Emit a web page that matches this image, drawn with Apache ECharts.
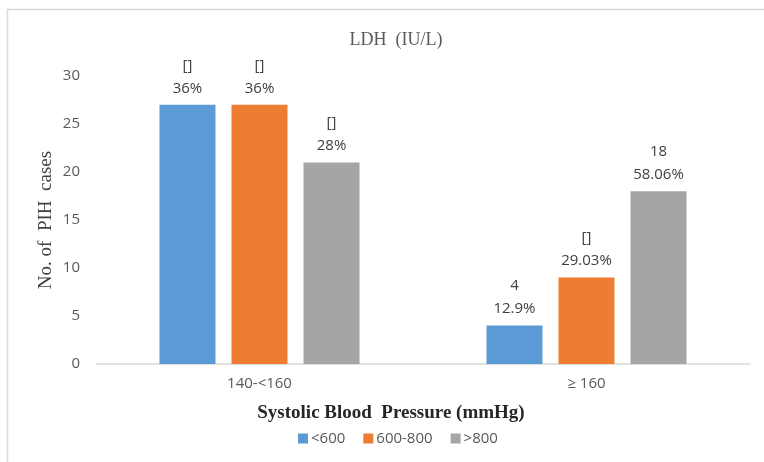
<!DOCTYPE html>
<html>
<head>
<meta charset="utf-8">
<script src="https://cdn.jsdelivr.net/npm/echarts@6/dist/echarts.min.js"></script>
<style>
  html, body { margin: 0; padding: 0; background: #fff; }
  #chart { width: 764px; height: 462px; }
</style>
</head>
<body>
<div id="chart"></div>
<script>
// Categories (systolic blood pressure bands)
const categories = ['140-<160', '\u2265 160'];

// LDH groups
const seriesNames = ['<600', '600-800', '>800'];
const colors = ['#5b9bd5', '#ed7d31', '#a5a5a5'];

// Number of PIH cases per LDH group
const lowValues = [27, 4];
const midValues = [27, 9];
const highValues = [21, 18];

// Data label text: first line, then percentage
const lowTop = ['[]', '4'];
const midTop = ['[]', '[]'];
const highTop = ['[]', '18'];
const lowPct = ['36%', '12.9%'];
const midPct = ['36%', '29.03%'];
const highPct = ['28%', '58.06%'];

const yTicks = [0, 5, 10, 15, 20, 25, 30];

const valueSets = [lowValues, midValues, highValues];
const topSets = [lowTop, midTop, highTop];
const pctSets = [lowPct, midPct, highPct];

const chart = echarts.init(document.getElementById('chart'), null, { renderer: 'canvas' });

const series = seriesNames.map((name, s) => ({
  name: name,
  type: 'bar',
  barWidth: 56,
  barGap: '28.6%',
  itemStyle: { color: colors[s] },
  label: {
    show: true,
    position: 'top',
    distance: 5,
    color: '#404040',
    fontSize: 15,
    lineHeight: 23,
    fontFamily: 'Open Sans, sans-serif',
    formatter: p => topSets[s][p.dataIndex] + '\n' + pctSets[s][p.dataIndex]
  },
  data: valueSets[s]
}));

chart.setOption({
  animation: false,
  backgroundColor: '#ffffff',
  graphic: [{
    type: 'rect',
    shape: { x: 7.5, y: 9.5, width: 820, height: 520 },
    style: { fill: 'none', stroke: '#d9d9d9', lineWidth: 1.5 },
    silent: true
  }],
  title: {
    text: 'LDH  (IU/L)',
    left: 391,
    textAlign: 'center',
    top: 26,
    textStyle: {
      fontFamily: 'Liberation Serif, DejaVu Serif, serif',
      fontSize: 18,
      fontWeight: 'normal',
      color: '#595959'
    }
  },
  legend: {
    bottom: 11,
    left: 293,
    itemWidth: 10,
    itemHeight: 10,
    itemGap: 18,
    icon: 'rect',
    textStyle: { color: '#595959', fontSize: 15, fontFamily: 'Open Sans, sans-serif', padding: [0, 0, 0, -2] },
    data: seriesNames
  },
  grid: { left: 96, right: 14, top: 76, bottom: 98 },
  xAxis: {
    type: 'category',
    data: categories,
    name: 'Systolic Blood  Pressure (mmHg)',
    nameLocation: 'middle',
    nameGap: 40,
    nameTextStyle: {
      fontFamily: 'Liberation Serif, DejaVu Serif, serif',
      fontSize: 19,
      fontWeight: 'bold',
      color: '#262626',
      padding: [0, 64, 0, 0]
    },
    axisLine: { lineStyle: { color: '#d9d9d9', width: 1.5 } },
    axisTick: { show: false },
    axisLabel: {
      color: '#595959',
      fontSize: 15,
      margin: 12,
      fontFamily: 'Open Sans, sans-serif'
    }
  },
  yAxis: {
    type: 'value',
    min: yTicks[0],
    max: yTicks[yTicks.length - 1],
    interval: yTicks[1] - yTicks[0],
    name: 'No. of  PIH  cases',
    nameLocation: 'middle',
    nameGap: 40,
    nameMoveOverlap: false,
    nameTextStyle: {
      fontFamily: 'Liberation Serif, DejaVu Serif, serif',
      fontSize: 19,
      color: '#404040'
    },
    axisLine: { show: false },
    axisTick: { show: false },
    splitLine: { show: false },
    axisLabel: {
      color: '#595959',
      fontSize: 15,
      margin: 16,
      fontFamily: 'Open Sans, sans-serif'
    }
  },
  series: series
});
</script>
</body>
</html>
